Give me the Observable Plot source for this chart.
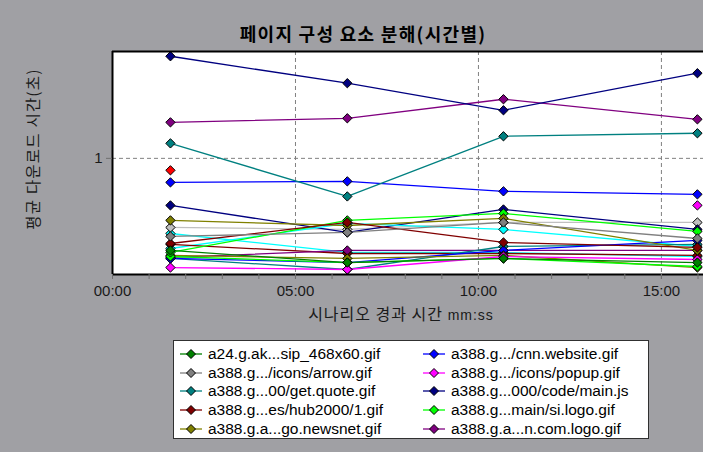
<!DOCTYPE html>
<html>
<head>
<meta charset="utf-8">
<script src="https://cdn.jsdelivr.net/npm/d3@7"></script>
<script src="https://cdn.jsdelivr.net/npm/@observablehq/plot@0.6"></script>
<style>
  html, body { margin: 0; padding: 0; }
  body { width: 703px; height: 452px; background: #a0a0a4; position: relative; overflow: hidden;
         font-family: "Liberation Sans", Arial, "Noto Sans CJK KR", sans-serif; }
  #title { position: absolute; left: 0; width: 726px; top: 20px; text-align: center;
           font-family: "Noto Sans CJK KR", sans-serif; font-weight: bold; font-size: 18px; letter-spacing: 1.3px; color: #000; }
  #ylabel { position: absolute; left: 32px; top: 149px; transform: translate(-50%, -50%) rotate(-90deg);
            white-space: nowrap; font-family: "Noto Sans CJK KR", sans-serif; font-size: 15.5px; color: #1a1a1a; letter-spacing: 1.2px; }
  #xlabel { position: absolute; left: 401px; top: 313px; transform: translate(-50%, -50%);
            white-space: nowrap; font-family: "Noto Sans CJK KR", sans-serif; font-size: 16px; color: #1a1a1a; letter-spacing: 1px; }
  #xlabel .unit { font-family: "Liberation Sans", Arial, sans-serif; font-size: 14px; }
  #chart { position: absolute; left: 0; top: 0; }
  #legend { position: absolute; left: 173px; top: 340px; width: 474px; height: 97px; background: #fff;
            border: 1px solid #303030; box-sizing: content-box; }
  .item { position: absolute; height: 18px; display: flex; align-items: center; font-size: 15.5px; color: #000; white-space: nowrap; }
  .item svg { margin-right: 5px; }
</style>
</head>
<body>
<div id="title">페이지 구성 요소 분해(시간별)</div>
<div id="ylabel">평균 다운로드 시간(초)</div>
<div id="xlabel">시나리오 경과 시간 <span class="unit">mm:ss</span></div>
<div id="chart"></div>
<div id="legend"></div>
<script>
// Elapsed scenario time of each sample (seconds)
const times = [95, 385, 641, 959];

// Legend series (shown in the legend box, column-major order)
const legendNames = [
  "a24.g.ak...sip_468x60.gif",
  "a388.g.../icons/arrow.gif",
  "a388.g...00/get.quote.gif",
  "a388.g...es/hub2000/1.gif",
  "a388.g.a...go.newsnet.gif",
  "a388.g.../cnn.website.gif",
  "a388.g.../icons/popup.gif",
  "a388.g...000/code/main.js",
  "a388.g...main/si.logo.gif",
  "a388.g.a...n.com.logo.gif"
];
const legendColors = ["#008000", "#808080", "#008080", "#800000", "#808000",
                      "#0000ff", "#ff00ff", "#000080", "#00ff00", "#800080"];
const legendValues = [
  [0.207, 0.103, 0.138, 0.103],
  [0.328, 0.362, 0.448, 0.310],
  [1.129, 0.672, 1.190, 1.216],
  [0.267, 0.448, 0.276, 0.233],
  [0.466, 0.422, 0.483, 0.207],
  [0.793, 0.802, 0.716, 0.690],
  [0.060, 0.043, 0.155, 0.129],
  [1.879, 1.647, 1.414, 1.733],
  [0.190, 0.466, 0.526, 0.371],
  [1.310, 1.345, 1.509, 1.336]
];

// Further components drawn on the chart (scrolled out of the legend)
const extraIds = ["e11", "e12", "e13", "e14", "e15", "e16", "e17", "e18", "e19", "e20", "e21", "e22"];
const extraColors = ["#ff0000", "#00ffff", "#c0c0c0", "#000080", "#00ffff", "#800000",
                     "#800080", "#ff00ff", "#008080", "#0000ff", "#808000", "#00ff00"];
const extraValues = [
  [0.897, null, null, null],
  [0.353, 0.190, 0.190, 0.155],
  [0.405, 0.388, 0.448, 0.448],
  [0.595, 0.362, 0.560, 0.388],
  [0.224, 0.440, 0.388, 0.241],
  [0.259, 0.181, 0.181, 0.164],
  [0.147, 0.207, 0.207, 0.207],
  [null, null, null, 0.595],
  [0.138, 0.043, 0.241, 0.259],
  [0.138, 0.103, 0.207, 0.293],
  [0.164, 0.138, 0.164, 0.060],
  [0.155, 0.103, 0.138, 0.069]
];

// Axis ticks
const xMajorTicks = [0, 300, 600, 900];
const xMinorTicks = d3.range(0, 961, 60);
const xGrid = [300, 600, 900];
const yTicks = [1];
const xDomain = [0, 969];
const yDomain = [0, 1.92];

const mmss = s => String(Math.floor(s / 60)).padStart(2, "0") + ":" + String(s % 60).padStart(2, "0");

const rows = [];
function addSeries(names, colors, values) {
  names.forEach((name, i) => {
    values[i].forEach((v, j) => {
      rows.push({series: name, color: colors[i], time: times[j], value: v == null ? NaN : v});
    });
  });
}
addSeries(extraIds, extraColors, extraValues);
addSeries(legendNames.slice().reverse(), legendColors.slice().reverse(), legendValues.slice().reverse());
const pts = rows.filter(d => !isNaN(d.value));

const chart = Plot.plot({
  width: 703, height: 330,
  marginTop: 51, marginBottom: 56, marginLeft: 112, marginRight: 0,
  style: {background: "transparent", fontFamily: "'Liberation Sans', Arial, sans-serif", fontSize: "15px", color: "#1a1a1a"},
  x: {domain: xDomain, label: null},
  y: {domain: yDomain, label: null},
  color: {type: "identity"},
  marks: [
    Plot.frame({fill: "white", stroke: "none"}),
    Plot.gridX(xGrid, {stroke: "#808080", strokeOpacity: 1, strokeDasharray: "4,3"}),
    Plot.gridY(yTicks, {stroke: "#808080", strokeOpacity: 1, strokeDasharray: "4,3"}),
    Plot.line(rows, {x: "time", y: "value", z: "series", stroke: "color", strokeWidth: 1.3}),
    Plot.dot(pts, {x: "time", y: "value", fill: "color", stroke: "black", strokeWidth: 1, symbol: "diamond2", r: 4.2}),
    Plot.ruleX([xDomain[0]], {stroke: "black", strokeWidth: 2}),
    Plot.ruleY(yDomain, {stroke: "black", strokeWidth: 2}),
    Plot.axisX(xMinorTicks, {tickFormat: () => "", tickSize: 5, stroke: "#707070", label: null}),
    Plot.axisX(xMajorTicks, {tickFormat: mmss, tickSize: 5, tickPadding: 6, stroke: "#707070", label: null}),
    Plot.axisY(yTicks, {tickFormat: d => String(d), tickSize: 6, tickPadding: 4, stroke: "#707070", label: null})
  ]
});
document.getElementById("chart").appendChild(chart);

// Legend
const legend = document.getElementById("legend");
legendNames.forEach((name, i) => {
  const col = Math.floor(i / 5), row = i % 5;
  const el = document.createElement("div");
  el.className = "item";
  el.style.left = (col === 0 ? 5 : 248) + "px";
  el.style.top = (4 + row * 18.7) + "px";
  const c = legendColors[i];
  el.innerHTML = `<svg width="24" height="12"><line x1="1" y1="6" x2="23" y2="6" stroke="${c}" stroke-width="1.3"/>` +
    `<path d="M12,1.5L16.5,6L12,10.5L7.5,6Z" fill="${c}" stroke="black" stroke-width="1"/></svg><span>${name}</span>`;
  legend.appendChild(el);
});
</script>
</body>
</html>
